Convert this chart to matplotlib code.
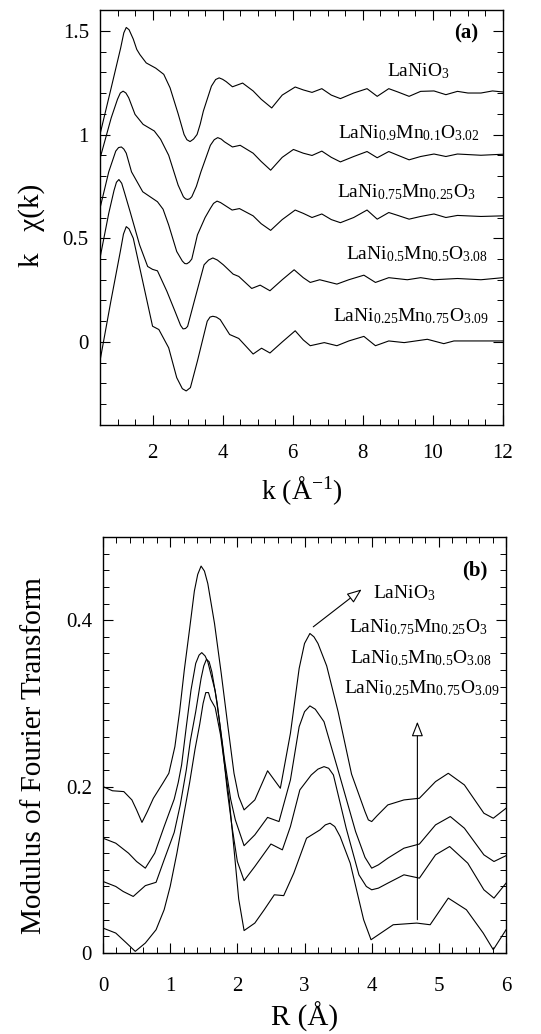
import matplotlib
matplotlib.use('Agg')
import matplotlib.pyplot as plt
from matplotlib.ticker import MultipleLocator

plt.rcParams['font.family'] = ['Liberation Serif', 'DejaVu Serif']
plt.rcParams['mathtext.fontset'] = 'custom'
plt.rcParams['mathtext.rm'] = 'Liberation Serif'
plt.rcParams['mathtext.it'] = 'Liberation Serif:italic'

# ---- (a) EXAFS k-space, curves offset vertically ----
k1 = [0.5, 0.82, 1.09, 1.18, 1.25, 1.33, 1.45, 1.55, 1.64, 1.82, 2.09, 2.32, 2.5, 2.73, 2.9,
      2.98, 3.07, 3.17, 3.27, 3.36, 3.45, 3.68, 3.8, 3.9, 4.0, 4.1, 4.28, 4.57, 4.87, 5.1,
      5.4, 5.7, 6.07, 6.3, 6.55, 6.83, 7.1, 7.36, 7.74, 8.12, 8.41, 8.74, 9.0, 9.32, 9.65,
      10.03, 10.37, 10.7, 11.0, 11.37, 11.7, 12.0]
chi1 = [1.0, 1.225, 1.417, 1.49, 1.516, 1.505, 1.46, 1.41, 1.385, 1.345, 1.32, 1.29, 1.225,
        1.1, 1.0, 0.975, 0.966, 0.978, 1.0, 1.05, 1.113, 1.233, 1.265, 1.273, 1.266, 1.255,
        1.23, 1.248, 1.21, 1.17, 1.128, 1.19, 1.229, 1.215, 1.203, 1.221, 1.19, 1.173, 1.2,
        1.221, 1.184, 1.221, 1.205, 1.184, 1.208, 1.21, 1.192, 1.208, 1.20, 1.20, 1.21, 1.205]

k2 = [0.5, 0.82, 1.0, 1.08, 1.16, 1.24, 1.32, 1.5, 1.73, 2.05, 2.23, 2.46, 2.73, 2.88, 2.94,
      3.0, 3.06, 3.12, 3.25, 3.38, 3.65, 3.76, 3.86, 3.96, 4.05, 4.28, 4.5, 4.87, 5.1, 5.37,
      5.7, 6.02, 6.3, 6.55, 6.83, 7.1, 7.36, 7.74, 8.12, 8.41, 8.74, 9.0, 9.32, 9.65, 10.03,
      10.37, 10.7, 11.37, 12.0]
chi2 = [0.884, 1.08, 1.17, 1.2, 1.209, 1.2, 1.177, 1.097, 1.049, 1.017, 0.977, 0.9, 0.756, 0.70,
        0.69, 0.687, 0.69, 0.70, 0.75, 0.82, 0.948, 0.975, 0.985, 0.978, 0.965, 0.94, 0.948,
        0.91, 0.87, 0.828, 0.89, 0.928, 0.91, 0.899, 0.92, 0.89, 0.868, 0.894, 0.918, 0.888,
        0.918, 0.9, 0.878, 0.894, 0.906, 0.894, 0.906, 0.90, 0.905]

k3 = [0.5, 0.75, 0.95, 1.03, 1.11, 1.18, 1.25, 1.4, 1.72, 2.14, 2.3, 2.46, 2.69, 2.85, 2.92,
      2.98, 3.05, 3.12, 3.28, 3.5, 3.65, 3.74, 3.84, 3.94, 4.05, 4.27, 4.48, 4.87, 5.1, 5.37,
      5.7, 6.07, 6.3, 6.55, 6.83, 7.1, 7.36, 7.74, 8.12, 8.41, 8.74, 9.0, 9.32, 9.65, 10.03,
      10.37, 10.7, 11.37, 12.0]
chi3 = [0.644, 0.82, 0.92, 0.937, 0.94, 0.93, 0.91, 0.82, 0.724, 0.676, 0.64, 0.564, 0.436,
        0.39, 0.378, 0.377, 0.385, 0.40, 0.516, 0.60, 0.644, 0.668, 0.679, 0.672, 0.66, 0.636,
        0.643, 0.608, 0.57, 0.538, 0.59, 0.636, 0.62, 0.60, 0.617, 0.59, 0.575, 0.60, 0.636,
        0.592, 0.624, 0.61, 0.592, 0.605, 0.617, 0.60, 0.61, 0.605, 0.608]

k4 = [0.5, 0.75, 0.9, 0.97, 1.04, 1.12, 1.2, 1.36, 1.63, 1.86, 2.0, 2.14, 2.41, 2.64, 2.8,
      2.87, 2.94, 3.0, 3.19, 3.47, 3.6, 3.72, 3.85, 4.02, 4.3, 4.46, 4.83, 5.07, 5.35, 5.7,
      6.04, 6.3, 6.5, 6.77, 7.26, 7.6, 8.03, 8.36, 8.74, 9.27, 9.65, 10.03, 10.7, 11.37, 12.0]
chi4 = [0.404, 0.62, 0.73, 0.77, 0.783, 0.765, 0.72, 0.628, 0.468, 0.364, 0.35, 0.343, 0.244,
        0.148, 0.08, 0.063, 0.065, 0.075, 0.196, 0.372, 0.395, 0.405, 0.395, 0.372, 0.327,
        0.316, 0.258, 0.274, 0.247, 0.30, 0.348, 0.31, 0.287, 0.30, 0.279, 0.30, 0.322, 0.287,
        0.31, 0.30, 0.31, 0.30, 0.306, 0.30, 0.31]

k5 = [0.5, 0.81, 1.08, 1.17, 1.25, 1.33, 1.45, 1.72, 2.0, 2.18, 2.46, 2.69, 2.85, 2.96, 3.08,
      3.28, 3.56, 3.64, 3.72, 3.82, 3.93, 4.2, 4.46, 4.87, 5.11, 5.35, 5.7, 6.07, 6.3, 6.5,
      6.9, 7.26, 7.6, 8.03, 8.36, 8.74, 9.18, 9.84, 10.31, 10.6, 11.37, 12.0]
chi5 = [-0.092, 0.196, 0.436, 0.52, 0.556, 0.545, 0.50, 0.292, 0.076, 0.06, -0.028, -0.172,
        -0.225, -0.236, -0.22, -0.092, 0.10, 0.12, 0.124, 0.12, 0.108, 0.036, 0.017, -0.058,
        -0.03, -0.053, 0.0, 0.054, 0.01, -0.018, -0.003, -0.018, 0.005, 0.027, -0.018, 0.005,
        -0.003, 0.013, -0.008, 0.005, 0.005, 0.005]

labels_a = [r'LaNiO$_3$',
            r'LaNi$_{0.9}$Mn$_{0.1}$O$_{3.02}$',
            r'LaNi$_{0.75}$Mn$_{0.25}$O$_3$',
            r'LaNi$_{0.5}$Mn$_{0.5}$O$_{3.08}$',
            r'LaNi$_{0.25}$Mn$_{0.75}$O$_{3.09}$']
label_a_k = [9.57, 9.33, 9.25, 9.56, 9.38]
label_a_y = [1.28, 0.984, 0.696, 0.399, 0.102]

# ---- (b) Fourier transform modulus ----
rA = [0, 0.14, 0.31, 0.43, 0.5, 0.58, 0.66, 0.75, 0.89, 0.98, 1.07, 1.14, 1.21, 1.29, 1.36,
      1.41, 1.46, 1.51, 1.56, 1.66, 1.76, 1.86, 1.95, 2.02, 2.1, 2.26, 2.45, 2.64, 2.79, 2.92,
      3.0, 3.08, 3.14, 3.2, 3.33, 3.5, 3.7, 3.9, 3.95, 4.0, 4.08, 4.24, 4.48, 4.71, 4.95,
      5.14, 5.38, 5.67, 5.81, 6.0]
ftA = [0.2, 0.195, 0.194, 0.184, 0.172, 0.157, 0.17, 0.186, 0.204, 0.216, 0.248, 0.29, 0.34,
       0.39, 0.435, 0.455, 0.465, 0.459, 0.444, 0.396, 0.336, 0.272, 0.216, 0.188, 0.172,
       0.184, 0.219, 0.198, 0.264, 0.342, 0.372, 0.384, 0.38, 0.372, 0.345, 0.29, 0.215, 0.17,
       0.16, 0.158, 0.165, 0.178, 0.184, 0.186, 0.206, 0.216, 0.202, 0.168, 0.162, 0.174]

rB = [0, 0.19, 0.38, 0.5, 0.63, 0.77, 0.91, 1.06, 1.12, 1.17, 1.24, 1.31, 1.38, 1.43, 1.47,
      1.52, 1.56, 1.67, 1.74, 1.81, 1.9, 1.97, 2.1, 2.26, 2.45, 2.62, 2.79, 2.92, 3.0, 3.08,
      3.16, 3.29, 3.52, 3.76, 3.9, 4.0, 4.1, 4.24, 4.48, 4.71, 4.95, 5.17, 5.38, 5.67, 5.82,
      6.0]
ftB = [0.138, 0.132, 0.12, 0.11, 0.102, 0.12, 0.152, 0.185, 0.205, 0.226, 0.272, 0.316, 0.348,
       0.358, 0.361, 0.357, 0.35, 0.315, 0.275, 0.232, 0.185, 0.16, 0.129, 0.142, 0.163, 0.158,
       0.208, 0.272, 0.29, 0.297, 0.293, 0.278, 0.214, 0.146, 0.115, 0.102, 0.106, 0.114,
       0.126, 0.131, 0.154, 0.164, 0.15, 0.118, 0.11, 0.117]

rC = [0, 0.19, 0.3, 0.45, 0.63, 0.79, 0.91, 1.06, 1.15, 1.24, 1.3, 1.38, 1.46, 1.5, 1.54, 1.58,
      1.62, 1.7, 1.78, 1.85, 1.92, 2.0, 2.1, 2.26, 2.5, 2.67, 2.79, 2.93, 3.1, 3.2, 3.29, 3.36,
      3.43, 3.62, 3.81, 3.92, 4.0, 4.1, 4.24, 4.48, 4.71, 4.95, 5.16, 5.43, 5.67, 5.82, 6.0]
ftC = [0.086, 0.08, 0.074, 0.068, 0.081, 0.085, 0.112, 0.145, 0.178, 0.22, 0.255, 0.29, 0.33,
       0.345, 0.353, 0.35, 0.338, 0.3, 0.248, 0.195, 0.152, 0.11, 0.087, 0.104, 0.131, 0.124,
       0.152, 0.196, 0.214, 0.221, 0.224, 0.222, 0.214, 0.15, 0.094, 0.08, 0.076, 0.078, 0.084,
       0.094, 0.09, 0.118, 0.128, 0.108, 0.076, 0.066, 0.084]

rD = [0, 0.19, 0.35, 0.48, 0.63, 0.79, 0.91, 1.0, 1.1, 1.2, 1.29, 1.37, 1.44, 1.49, 1.53, 1.57,
      1.6, 1.67, 1.75, 1.82, 1.88, 1.95, 2.02, 2.1, 2.26, 2.4, 2.55, 2.69, 2.84, 3.03, 3.23,
      3.31, 3.38, 3.45, 3.53, 3.68, 3.88, 3.99, 4.1, 4.32, 4.67, 4.87, 5.14, 5.41, 5.66, 5.81,
      6.0]
ftD = [0.03, 0.024, 0.012, 0.002, 0.012, 0.028, 0.052, 0.08, 0.12, 0.165, 0.205, 0.245, 0.275,
       0.3, 0.313, 0.313, 0.305, 0.295, 0.262, 0.22, 0.184, 0.125, 0.065, 0.027, 0.036, 0.052,
       0.07, 0.069, 0.096, 0.138, 0.148, 0.154, 0.156, 0.152, 0.14, 0.108, 0.04, 0.016, 0.022,
       0.034, 0.036, 0.034, 0.066, 0.052, 0.024, 0.004, 0.028]

labels_b = [r'LaNiO$_3$',
            r'LaNi$_{0.75}$Mn$_{0.25}$O$_3$',
            r'LaNi$_{0.5}$Mn$_{0.5}$O$_{3.08}$',
            r'LaNi$_{0.25}$Mn$_{0.75}$O$_{3.09}$']
label_b_r = [4.48, 4.70, 4.74, 4.74]
label_b_y = [0.426, 0.386, 0.348, 0.312]

fig = plt.figure(figsize=(5.41, 10.34), dpi=100)
ax1 = fig.add_axes([0.1848, 0.5890, 0.7450, 0.4013])
ax2 = fig.add_axes([0.1904, 0.0783, 0.7450, 0.4024])

lw = 0.8
for kk, cc in [(k1, chi1), (k2, chi2), (k3, chi3), (k4, chi4), (k5, chi5)]:
    ax1.plot(kk, cc, color='black', lw=lw)

for lab, x, y in zip(labels_a, label_a_k, label_a_y):
    ax1.text(x, y, lab, ha='center', va='baseline', fontsize=14)
ax1.text(11.3, 1.465, '(a)', ha='right', va='baseline', fontsize=15, fontweight='bold')

ax1.set_xlim(0.5, 12)
ax1.set_ylim(-0.4, 1.6)
ax1.set_xticks([2, 4, 6, 8, 10, 12])
ax1.set_xticklabels(['2', '4', '6', '8', '10', '12'])
ax1.set_yticks([0, 0.5, 1, 1.5])
ax1.set_yticklabels(['0', '0.5', '1', '1.5'])
ax1.xaxis.set_minor_locator(MultipleLocator(0.5))
ax1.yaxis.set_minor_locator(MultipleLocator(0.1))
ax1.tick_params(axis='x', which='major', pad=14)
ax1.set_xlabel(r'k (Å$^{-1}$)', fontsize=20, labelpad=8)
ax1.set_ylabel('k   χ(k)', fontsize=21)
ax1.yaxis.set_label_coords(-0.136, 0.48)

for rr, ff in [(rA, ftA), (rB, ftB), (rC, ftC), (rD, ftD)]:
    ax2.plot(rr, ff, color='black', lw=lw)

for lab, x, y in zip(labels_b, label_b_r, label_b_y):
    ax2.text(x, y, lab, ha='center', va='baseline', fontsize=14)
ax2.text(5.73, 0.454, '(b)', ha='right', va='baseline', fontsize=15, fontweight='bold')

arrow = dict(arrowstyle='-|>,head_length=0.9,head_width=0.35', fc='white', ec='black',
             lw=0.8, shrinkA=0, shrinkB=0)
ax2.annotate('', xy=(3.85, 0.437), xytext=(3.13, 0.392), arrowprops=arrow)
ax2.annotate('', xy=(4.68, 0.278), xytext=(4.68, 0.04), arrowprops=arrow)

ax2.set_xlim(0, 6)
ax2.set_ylim(0, 0.5)
ax2.set_xticks([0, 1, 2, 3, 4, 5, 6])
ax2.set_xticklabels(['0', '1', '2', '3', '4', '5', '6'])
ax2.set_yticks([0, 0.2, 0.4])
ax2.set_yticklabels(['0', '0.2', '0.4'])
ax2.xaxis.set_minor_locator(MultipleLocator(0.2))
ax2.yaxis.set_minor_locator(MultipleLocator(0.02))
ax2.tick_params(axis='x', which='major', pad=17)
ax2.set_xlabel('R (Å)', fontsize=21, labelpad=4)
ax2.set_ylabel('Modulus of Fourier Transform', fontsize=21)
ax2.yaxis.set_label_coords(-0.14, 0.474)

for ax in (ax1, ax2):
    ax.tick_params(which='both', direction='in', top=True, right=True, labelsize=15)
    ax.tick_params(which='major', length=7, width=0.8)
    ax.tick_params(axis='y', which='major', pad=8)
    ax.tick_params(which='minor', length=4.5, width=0.7)
    for s in ax.spines.values():
        s.set_linewidth(1.0)

fig.savefig('out.png', dpi=100)
